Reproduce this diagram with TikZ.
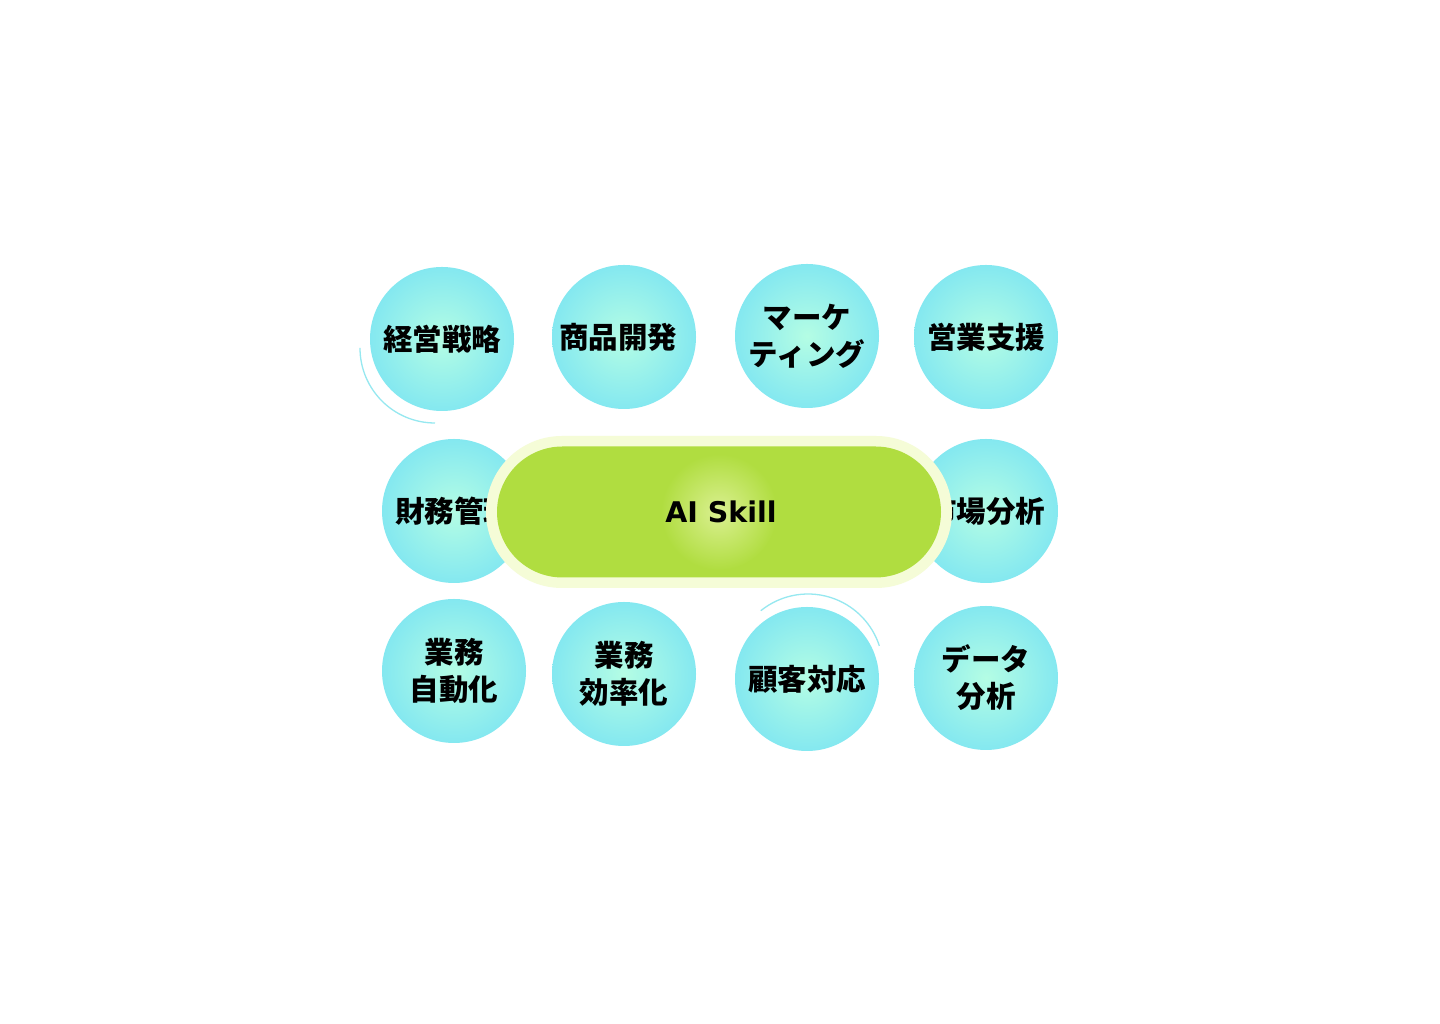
\documentclass[tikz,border=0pt]{standalone}
\usepackage{fontspec}
\newfontfamily\jp{Noto Sans CJK JP}
\newfontfamily\en{DejaVu Sans}
\definecolor{mintc}{RGB}{180,253,228}
\definecolor{cyanc}{RGB}{132,232,240}
\definecolor{leaf}{RGB}{176,221,64}
\definecolor{leaflight}{RGB}{218,240,145}
\definecolor{cream}{RGB}{245,252,215}
\definecolor{arcc}{RGB}{150,232,240}
\begin{document}
\begin{tikzpicture}[x=1pt,y=1pt,
  bubble/.style={circle, minimum size=144pt, inner sep=0pt, shading=radial,
    inner color=mintc, outer color=cyanc, align=center,
    font=\jp\bfseries\fontsize{29.5}{37}\selectfont, text=black}]
\useasboundingbox (0,0) rectangle (1440,1024);
\fill[white] (0,0) rectangle (1440,1024);
% shadow arcs
\draw[arcc, line width=1.3pt] (435,676) ++(180:75) arc[start angle=180, end angle=270, radius=75];
\draw[arcc, line width=1.3pt] (808,355) ++(129:75) arc[start angle=129, end angle=18, radius=75];
% bubbles
\node[bubble] (b1) at (442,685) {経営戦略};
\node[bubble] (b2) at (624,687) {\hspace*{-12pt}商品開発};
\node[bubble] (b3) at (807,688) {マーケ\\ティング};
\node[bubble] (b4) at (986,687) {営業支援};
\node[bubble] (b5) at (454,513) {財務管理};
\node[bubble] (b6) at (986,513) {市場分析};
\node[bubble] (b7) at (454,353) {業務\\自動化};
\node[bubble] (b8) at (624,350) {業務\\効率化};
\node[bubble] (b9) at (807,345) {顧客対応};
\node[bubble] (b10) at (986,346) {データ\\分析};
% central pill
\fill[cream, rounded corners=76pt] (486,436) rectangle (952,588);
\fill[leaf, rounded corners=65.5pt] (497,446.5) rectangle (941,577.5);
\shade[inner color=leaflight, outer color=leaf] (719,512) circle (58);
\node[font=\en\bfseries\fontsize{28.5}{34}\selectfont, text=black] (core) at (721,512) {AI Skill};
\end{tikzpicture}
\end{document}
